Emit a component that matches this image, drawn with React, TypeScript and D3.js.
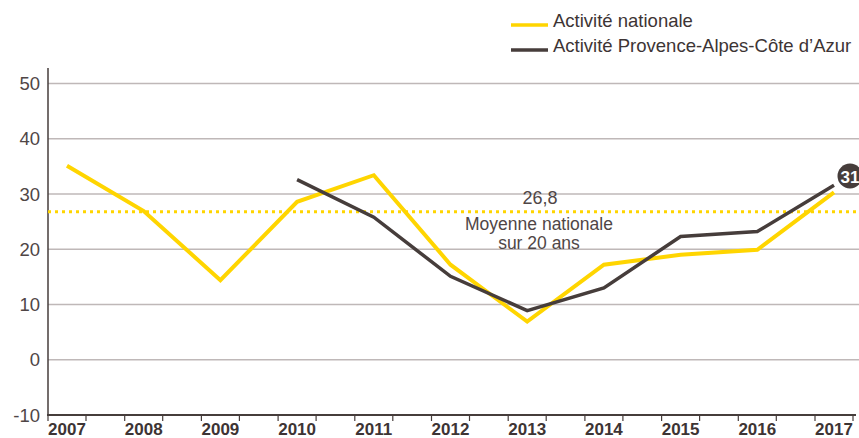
import React from "react";
import * as d3 from "d3";

const years = ["2007","2008","2009","2010","2011","2012","2013","2014","2015","2016","2017"];
const national = [35.1, 26.9, 14.4, 28.6, 33.4, 17.2, 6.9, 17.2, 19.0, 19.9, 30.3];
const paca: (number | null)[] = [null, null, null, 32.6, 25.8, 15.1, 8.9, 13.0, 22.3, 23.2, 31.6];
const yTicks = [-10, 0, 10, 20, 30, 40, 50];
const average = 26.8;
const avgLabel = "26,8";
const avgText = ["Moyenne nationale", "sur 20 ans"];
const legendItems = ["Activité nationale", "Activité Provence-Alpes-Côte d\u2019Azur"];
const endLabel = "31";

const W = 859, H = 438;
const YELLOW = "#ffd500";
const DARK = "#463d3b";
const GRID = "#bfb8b8";
const TXT = "#4f4646";

export default function App() {
  const x = d3.scalePoint<string>().domain(years).range([67, 834]);
  const y = d3.scaleLinear().domain([-10, 50]).range([415, 83.5]);
  const half = 19;
  const line = d3.line<[string, number | null]>()
    .defined(d => d[1] != null)
    .x(d => x(d[0])!)
    .y(d => y(d[1] as number));
  const natPath = line(years.map((yr, i) => [yr, national[i]]));
  const pacaPath = line(years.map((yr, i) => [yr, paca[i]]));
  return (
    <svg width={W} height={H} style={{ position: "absolute", left: 0, top: 0, display: "block" }}
      fontFamily="'Liberation Sans', Arial, sans-serif">
      {yTicks.filter(t => t > -10).map(t => (
        <line key={t} x1={48} x2={W} y1={y(t)} y2={y(t)} stroke={GRID} strokeWidth={1.5} />
      ))}
      {yTicks.map(t => (
        <text key={"l" + t} x={40} y={y(t) + 6.5} textAnchor="end" fontSize={18.5} fill={TXT}>{t}</text>
      ))}
      <line x1={48} x2={48} y1={68} y2={416} stroke={DARK} strokeWidth={1.5} />
      <line x1={47} x2={856} y1={415} y2={415} stroke={DARK} strokeWidth={2} />
      {years.map(yr => (
        <g key={yr}>
          <line x1={x(yr)! - half} x2={x(yr)! - half} y1={415} y2={421} stroke={DARK} strokeWidth={1.2} />
          <line x1={x(yr)! + half} x2={x(yr)! + half} y1={415} y2={421} stroke={DARK} strokeWidth={1.2} />
          <text x={x(yr)!} y={435} textAnchor="middle" fontSize={17} fontWeight="bold" fill="#3d3434">{yr}</text>
        </g>
      ))}
      <line x1={48} x2={W} y1={y(average)} y2={y(average)} stroke={YELLOW} strokeWidth={3} strokeDasharray="3 4" />
      <text x={540} y={y(average) - 8} textAnchor="middle" fontSize={18} fill={TXT}>{avgLabel}</text>
      {avgText.map((t, i) => (
        <text key={t} x={539} y={y(average) + 18 + i * 19.5} textAnchor="middle" fontSize={17.5} fill={TXT}>{t}</text>
      ))}
      <path d={natPath!} fill="none" stroke={YELLOW} strokeWidth={4} strokeLinejoin="miter" />
      <path d={pacaPath!} fill="none" stroke={DARK} strokeWidth={3.5} strokeLinejoin="miter" />
      <circle cx={850} cy={176} r={12.5} fill={DARK} />
      <text x={850} y={182.5} textAnchor="middle" fontSize={17} fontWeight="bold" fill="#fff">{endLabel}</text>
      {legendItems.map((t, i) => (
        <g key={t}>
          <line x1={511} x2={548} y1={25 + i * 25} y2={25 + i * 25} stroke={i === 0 ? YELLOW : DARK} strokeWidth={3.5} />
          <text x={553} y={27 + i * 25} fontSize={18.5} fill="#3d3434">{t}</text>
        </g>
      ))}
    </svg>
  );
}
